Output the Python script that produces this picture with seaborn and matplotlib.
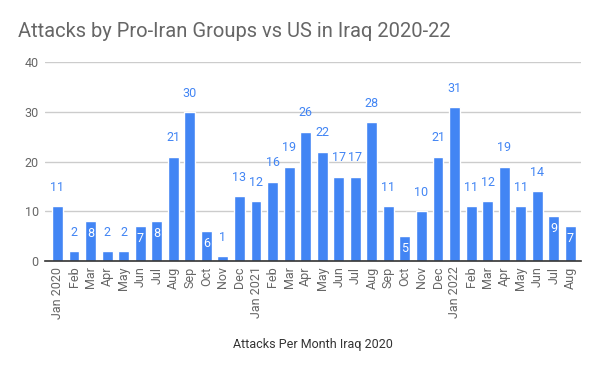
import matplotlib
matplotlib.use('Agg')
import matplotlib.pyplot as plt
import seaborn as sns
import pandas as pd

months = ['Jan 2020', 'Feb', 'Mar', 'Apr', 'May', 'Jun', 'Jul', 'Aug', 'Sep', 'Oct', 'Nov', 'Dec',
          'Jan 2021', 'Feb', 'Mar', 'Apr', 'May', 'Jun', 'Jul', 'Aug', 'Sep', 'Oct', 'Nov', 'Dec',
          'Jan 2022', 'Feb', 'Mar', 'Apr', 'May', 'Jun', 'Jul', 'Aug']
attacks = [11, 2, 8, 2, 2, 7, 8, 21, 30, 6, 1, 13,
           12, 16, 19, 26, 22, 17, 17, 28, 11, 5, 10, 21,
           31, 11, 12, 19, 11, 14, 9, 7]
# labels drawn inside the bar (white) instead of above
inside = [False, False, True, False, False, True, True, False, False, True, False, False,
          False, False, False, False, False, False, False, False, False, True, False, False,
          False, False, False, False, False, False, True, True]

df = pd.DataFrame({'pos': range(len(months)), 'attacks': attacks})

sns.set_style('white')
plt.rcParams['font.family'] = ['Roboto', 'DejaVu Sans']

blue = '#4285F4'
grey = '#666666'

fig = plt.figure(figsize=(6, 3.71), dpi=100)
ax = fig.add_axes([0.075, 0.2965, 0.894, 0.5355])
sns.barplot(data=df, x='pos', y='attacks', color=blue, saturation=1, width=0.66, ax=ax)

ax.set_ylim(0, 40)
ax.set_yticks([0, 10, 20, 30, 40])
ax.yaxis.grid(True, color='#cccccc', linewidth=1)
ax.set_axisbelow(True)
for s in ['top', 'right', 'left']:
    ax.spines[s].set_visible(False)
ax.spines['bottom'].set_color('#333333')
ax.spines['bottom'].set_linewidth(1.2)
ax.set_xlim(-0.755, len(months) - 1 + 0.665)

ax.set_xticks(range(len(months)))
ax.set_xticklabels(months, rotation=90, color=grey, fontsize=9)
ax.tick_params(axis='y', colors=grey, labelsize=9, length=0, pad=4.5)
ax.tick_params(axis='x', length=0, pad=4)
ax.set_ylabel('')
ax.set_xlabel('Attacks Per Month Iraq 2020', color='#333333', fontsize=9, labelpad=14)

for i, (v, ins) in enumerate(zip(attacks, inside)):
    if ins:
        ax.text(i, v - 2.4, str(v), ha='center', va='center', color='white', fontsize=9)
    else:
        ax.text(i, v + 3.8, str(v), ha='center', va='center', color=blue, fontsize=9)

fig.text(0.03, 0.915, 'Attacks by Pro-Iran Groups vs US in Iraq 2020-22', color=grey,
         fontsize=14.5, ha='left', va='center')

fig.savefig('out.png', dpi=100)
